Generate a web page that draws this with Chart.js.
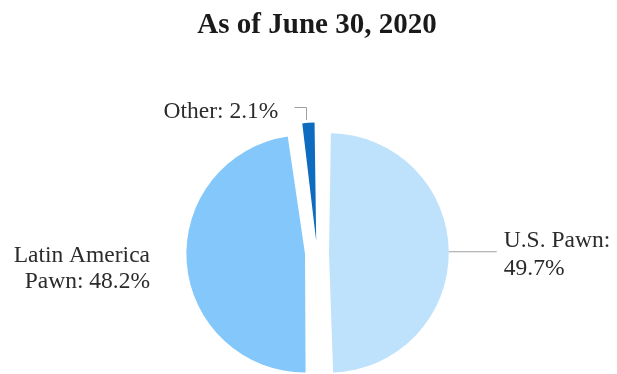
<!DOCTYPE html>
<html>
<head>
<meta charset="utf-8">
<script src="https://cdn.jsdelivr.net/npm/chart.js@4.4.1/dist/chart.umd.min.js"></script>
<style>
  html, body { margin: 0; padding: 0; background: #ffffff; overflow: hidden; }
  #wrap { width: 617px; height: 374px; overflow: hidden; }
</style>
</head>
<body>
<div id="wrap"><canvas id="pawnChart" width="617" height="390"></canvas></div>
<script>
var segments = ['U.S. Pawn', 'Latin America Pawn', 'Other'];
var shares = [49.7, 48.2, 2.1];
var sliceColors = ['#bfe2fc', '#84c7fb', '#0d6cbf'];
var chartTitle = 'As of June 30, 2020';

// labels + leader lines drawn next to each slice
var sliceLabels = {
    id: 'sliceLabels',
    afterDraw: function(chart) {
        var ctx = chart.ctx;
        var arcs = chart.getDatasetMeta(0).data;
        // chart.js moves an exploded arc by offset/4 and grows it by the same amount
        var shift = chart.data.datasets[0].offset / 4;
        ctx.save();
        ctx.font = '23.5px "Liberation Serif", "Times New Roman", serif';
        ctx.fillStyle = '#2b2b2b';
        ctx.strokeStyle = '#a0a0a0';
        ctx.lineWidth = 1;
        ctx.textBaseline = 'alphabetic';

        arcs.forEach(function(arc, i) {
            var p = arc.getProps(['x', 'y', 'startAngle', 'endAngle', 'outerRadius'], true);
            var mid = (p.startAngle + p.endAngle) / 2;
            var circ = p.endAngle - p.startAngle;
            var r = p.outerRadius + shift + shift * (1 - Math.sin(Math.min(Math.PI, circ)));
            var ex = p.x + Math.cos(mid) * r;
            var ey = p.y + Math.sin(mid) * r;
            var txt = shares[i].toFixed(1) + '%';

            if (i === 0) {
                ctx.beginPath();
                ctx.moveTo(ex, ey);
                ctx.lineTo(ex + 48, ey);
                ctx.stroke();
                ctx.textAlign = 'left';
                ctx.fillText('U.S. Pawn:', ex + 55, p.y - 6);
                ctx.fillText(txt, ex + 55, p.y + 22);
            } else if (i === 1) {
                ctx.textAlign = 'right';
                ctx.fillText('Latin America', p.x - 167, p.y + 9);
                ctx.fillText('Pawn: ' + txt, p.x - 167, p.y + 35);
            } else {
                var lx = Math.round(ex - 2) + 0.5;
                var ly = Math.round(ey - 16) + 0.5;
                ctx.beginPath();
                ctx.moveTo(lx, ey - 3);
                ctx.lineTo(lx, ly);
                ctx.lineTo(lx - 12, ly);
                ctx.stroke();
                ctx.textAlign = 'right';
                ctx.fillText('Other: ' + txt, ex - 30, ly + 10);
            }
        });
        ctx.restore();
    }
};

var ctx = document.getElementById('pawnChart').getContext('2d');
var pawnChart = new Chart(ctx, {
    type: 'pie',
    data: {
        labels: segments,
        datasets: [{
            data: shares,
            backgroundColor: sliceColors,
            borderWidth: 0,
            offset: 48
        }]
    },
    options: {
        responsive: false,
        animation: false,
        devicePixelRatio: 1,
        layout: {
            padding: { top: 0, bottom: 5, left: 185, right: 168 }
        },
        plugins: {
            legend: { display: false },
            tooltip: { enabled: false },
            title: {
                display: true,
                text: chartTitle,
                color: '#1a1a1a',
                font: { family: '"Liberation Serif", "Times New Roman", serif', size: 29, weight: 'bold', lineHeight: 1.2 },
                padding: { top: 8, bottom: 78.2 }
            }
        }
    },
    plugins: [sliceLabels]
});
</script>
</body>
</html>
